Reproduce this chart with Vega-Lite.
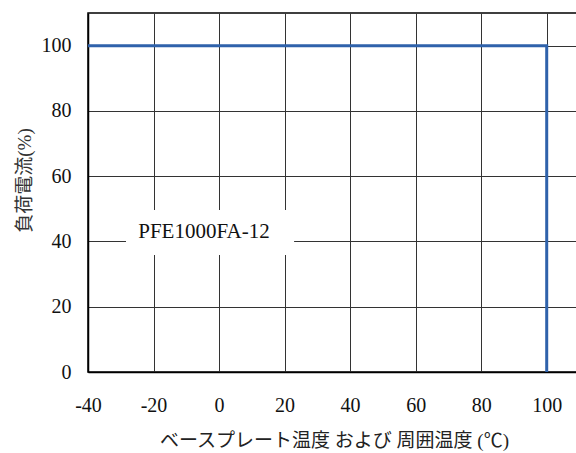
{
  "$schema": "https://vega.github.io/schema/vega-lite/v6.json",
  "width": 490,
  "height": 359,
  "autosize": {"type": "none"},
  "padding": {"left": 88, "top": 13, "right": 0, "bottom": 81},
  "background": "white",
  "config": {
    "view": {"stroke": "black", "strokeWidth": 1.5},
    "font": "Liberation Serif",
    "axis": {
      "ticks": false,
      "domainColor": "black",
      "domainWidth": 1.5,
      "gridColor": "#333",
      "gridWidth": 1,
      "gridOpacity": 1
    }
  },
  "datasets": {
    "curve": [
      {"temp": -40, "load": 100},
      {"temp": 100, "load": 100},
      {"temp": 100, "load": 0}
    ],
    "note": [
      {"x1": -28.4, "x2": 22.9, "y1": 35.85, "y2": 49.6, "tx": -4.6, "ty": 41.06, "label": "PFE1000FA-12"}
    ]
  },
  "encoding": {
    "x": {"type": "quantitative", "scale": {"domain": [-40, 109.55], "nice": false, "zero": false},
      "axis": {"values": [-40, -20, 0, 20, 40, 60, 80, 100], "labelPadding": 23, "labelFlush": false, "labelDx": 2,
        "labelFont": "Liberation Serif", "labelFontSize": 20, "labelFontWeight": "normal", "labelColor": "#111",
        "labelExpr": "datum.value < 0 ? '-' + abs(datum.value) : '' + datum.value",
        "title": "ベースプレート温度 および 周囲温度 (℃)", "titleY": 68, "titleBaseline": "middle", "titleX": 246,
        "titleFont": "Liberation Serif, Noto Sans CJK JP", "titleFontSize": 19, "titleFontWeight": "normal", "titleColor": "#222"}},
    "y": {"type": "quantitative", "scale": {"domain": [0, 110], "nice": false},
      "axis": {"values": [0, 20, 40, 60, 80, 100], "labelPadding": 17,
        "labelFont": "Liberation Serif", "labelFontSize": 20, "labelFontWeight": "normal", "labelColor": "#111",
        "title": "負荷電流(%)", "titleX": -64, "titleY": 167, "titleAngle": -90, "titleBaseline": "middle", "titleAlign": "center",
        "titleFont": "Liberation Serif, Noto Sans CJK JP", "titleFontSize": 19, "titleFontWeight": "normal", "titleColor": "#333"}}
  },
  "layer": [
    {
      "data": {"name": "note"},
      "mark": {"type": "rect", "fill": "white", "stroke": null},
      "encoding": {
        "x": {"field": "x1"},
        "x2": {"field": "x2"},
        "y": {"field": "y1"},
        "y2": {"field": "y2"}
      }
    },
    {
      "data": {"name": "note"},
      "mark": {"type": "text", "font": "Liberation Serif", "fontSize": 21, "color": "#111", "align": "center", "baseline": "alphabetic"},
      "encoding": {
        "x": {"field": "tx"},
        "y": {"field": "ty"},
        "text": {"field": "label"}
      }
    },
    {
      "data": {"name": "curve"},
      "mark": {"type": "line", "color": "#2f62ab", "strokeWidth": 3, "clip": false},
      "encoding": {
        "x": {"field": "temp"},
        "y": {"field": "load"},
        "order": {"value": 0}
      }
    }
  ]
}
